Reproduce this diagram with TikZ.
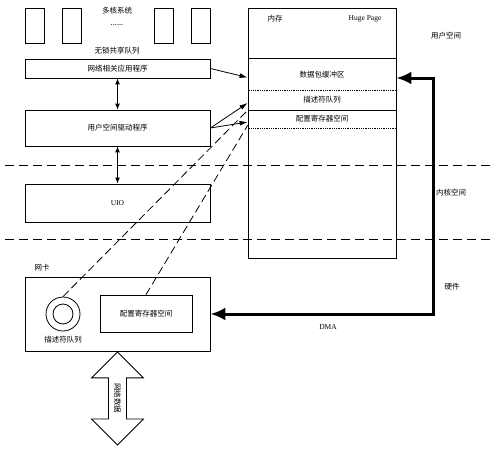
\documentclass[tikz,border=0pt]{standalone}
\usepackage{fontspec}
\setmainfont{Liberation Serif}
\newfontfamily\cjk{Noto Sans CJK SC}
\usetikzlibrary{arrows.meta,shapes.arrows}
\tikzset{
  core/.style={draw, minimum width=19pt, minimum height=35pt, inner sep=0pt},
  layer/.style={draw, minimum width=185pt, inner sep=0pt, font=\cjk\fontsize{7.5}{9}\selectfont},
  lbl/.style={inner sep=1pt, font=\cjk\fontsize{7.5}{9}\selectfont},
  sect/.style={minimum width=148pt, inner sep=0pt, font=\cjk\fontsize{7.5}{9}\selectfont},
  link/.style={-{Latex[length=8pt,width=5pt]}},
  ctl/.style={{Latex[length=6pt,width=5pt]}-{Latex[length=6pt,width=5pt]}, line width=1pt},
  dma/.style={{Latex[length=15pt,width=13pt]}-{Latex[length=15pt,width=13pt]}, line width=3pt},
  sep/.style={dash pattern=on 9pt off 5pt},
  lead/.style={dash pattern=on 8pt off 4pt}
}
\begin{document}
\begin{tikzpicture}[x=1pt,y=-1pt,line width=0.8pt]
\useasboundingbox (0,0) rectangle (498,450);
% cores
\node[core] (c1) at (34.5,25.5) {};
\node[core] (c2) at (71.5,25.5) {};
\node[core] (c3) at (164,25.5) {};
\node[core] (c4) at (200.5,25.5) {};
\node[lbl] (multi) at (117,11) {多核系统};
\node[lbl] (dots) at (117,25) {......};
\node[lbl] (queue) at (117,51) {无锁共享队列};
% software stack
\node[layer, minimum height=19pt] (app) at (117.5,68.5) {网络相关应用程序};
\node[layer, minimum height=36pt] (drv) at (117.5,128) {用户空间驱动程序};
\node[layer, minimum height=38pt, font=\fontsize{7.5}{9}\selectfont] (uio) at (117.5,203) {UIO};
\draw[ctl] (app.south) -- (drv.north);
\draw[ctl] (drv.south) -- (uio.north);
% memory
\node[draw, minimum width=148pt, minimum height=250pt, inner sep=0pt] (mem) at (322,133) {};
\node[lbl] (memname) at (275,19) {内存};
\node[lbl, font=\fontsize{7.5}{9}\selectfont] (huge) at (365,19) {Huge Page};
\node[sect, minimum height=31pt] (pkt) at (322,74.5) {数据包缓冲区};
\node[sect, minimum height=20pt] (desc) at (322,100) {描述符队列};
\node[sect, minimum height=18pt] (reg) at (322,119) {配置寄存器空间};
\draw (pkt.north west) -- (pkt.north east);
\draw[densely dotted] (pkt.south west) -- (pkt.south east);
\draw (desc.south west) -- (desc.south east);
\draw[densely dotted] (reg.south west) -- (reg.south east);
\draw[link] (app.east) -- ([yshift=-3pt]pkt.west);
\draw[link] (drv.east) -- ([yshift=-3pt]desc.west);
\draw[link] (drv.east) -- ([yshift=-3pt]reg.west);
% space borders
\draw[sep] (5,165) -- (493,165);
\draw[sep] (5,239) -- (493,239);
\node[lbl] (user) at (446,36) {用户空间};
\node[lbl] (kernel) at (451,193) {内核空间};
\node[lbl] (hw) at (452,287) {硬件};
% nic
\node[lbl] (nicname) at (42,268) {网卡};
\node[draw, minimum width=185pt, minimum height=74pt, inner sep=0pt] (nic) at (117.5,314) {};
\node[draw, circle, minimum size=34pt, inner sep=0pt] (ring) at (63,314) {};
\node[draw, circle, minimum size=20pt, inner sep=0pt] (ringin) at (ring) {};
\node[lbl] (ringname) at (63,340) {描述符队列};
\node[layer, minimum width=92pt, minimum height=37pt] (nicreg) at (146,313.5) {配置寄存器空间};
\draw[lead] (ring.north) -- (desc.south west);
\draw[lead] (nicreg.north) -- ([yshift=3pt]reg.south west);
% dma
\draw[dma] ([yshift=-3.5pt]pkt.east) -- ++(37,0) |- (nic.east);
\node[font=\fontsize{7.5}{9}\selectfont] (dmaname) at (328,327) {DMA};
% wire
\node[draw, double arrow, rotate=-90, anchor=west, minimum height=93pt,
  inner xsep=2pt, inner ysep=5pt, double arrow head extend=17pt,
  font=\cjk\fontsize{7.5}{9}\selectfont] (wire) at (nic.south) {网络数据};
\end{tikzpicture}
\end{document}
